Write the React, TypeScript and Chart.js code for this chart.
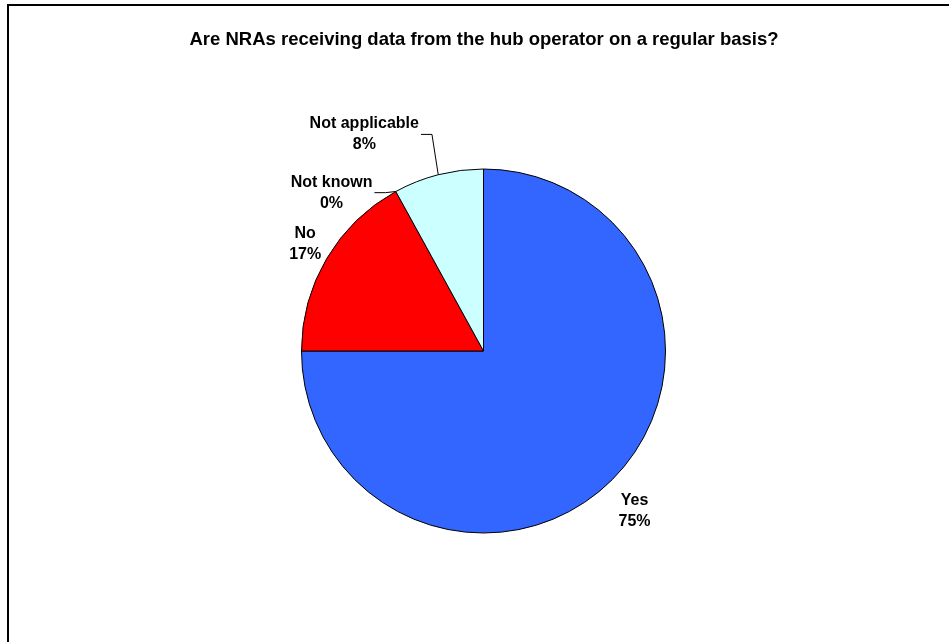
import React, { useEffect, useRef } from "react";
import { Chart, registerables } from "chart.js";

Chart.register(...registerables);

const titleText = "Are NRAs receiving data from the hub operator on a regular basis?";
const categories = ["Yes", "No", "Not known", "Not applicable"];
const percentages = [75, 17, 0, 8];
const sliceColors = ["#3366FF", "#FF0000", "#FFFF99", "#CCFFFF"];
// label placement, in units of the pie radius relative to its centre
const labelOffsetX = [0.83, -0.98, -0.835, -0.655];
const labelOffsetY = [0.88, -0.59, -0.87, -1.19];
const hasLeader = [false, false, true, true];

const FONT = "'Liberation Sans', Arial, Helvetica, sans-serif";

const overlayPlugin = {
  id: "overlay",
  afterDraw(chart: any) {
    const ctx = chart.ctx as CanvasRenderingContext2D;
    ctx.save();
    // frame
    ctx.strokeStyle = "#000";
    ctx.lineWidth = 2;
    ctx.beginPath();
    ctx.moveTo(8, 700);
    ctx.lineTo(8, 5);
    ctx.lineTo(1000, 5);
    ctx.stroke();

    // title
    ctx.fillStyle = "#000";
    ctx.font = `bold 18.5px ${FONT}`;
    ctx.textAlign = "center";
    ctx.textBaseline = "middle";
    ctx.fillText(titleText, 484, 40);

    const meta = chart.getDatasetMeta(0);
    const arc0 = meta.data[0];
    const cx = arc0.x;
    const cy = arc0.y;
    const r = arc0.outerRadius;
    ctx.font = `bold 16px ${FONT}`;
    const lh = 21;
    categories.forEach((cat, i) => {
      const lx = cx + labelOffsetX[i] * r;
      const ly = cy + labelOffsetY[i] * r;
      ctx.fillStyle = "#000";
      ctx.fillText(cat, lx, ly - lh / 2);
      ctx.fillText(percentages[i] + "%", lx, ly + lh / 2);
      if (hasLeader[i]) {
        const arc = meta.data[i];
        const mid = (arc.startAngle + arc.endAngle) / 2;
        const ex = cx + Math.cos(mid) * r;
        const ey = cy + Math.sin(mid) * r;
        const w = ctx.measureText(cat).width;
        const sx = lx + w / 2 + 2;
        const sy = ly;
        ctx.strokeStyle = "#000";
        ctx.lineWidth = 1;
        ctx.beginPath();
        ctx.moveTo(sx, sy);
        ctx.lineTo(sx + 11, sy);
        ctx.lineTo(ex, ey);
        ctx.stroke();
      }
    });
    ctx.restore();
  },
};

export default function App() {
  const ref = useRef<HTMLCanvasElement | null>(null);
  useEffect(() => {
    if (!ref.current) return;
    const chart = new Chart(ref.current, {
      type: "pie",
      data: {
        labels: categories,
        datasets: [
          {
            data: percentages,
            backgroundColor: sliceColors,
            borderColor: "#000",
            borderWidth: 1,
          },
        ],
      },
      options: {
        animation: false,
        responsive: false,
        rotation: 0,
        layout: { padding: { left: 301, right: 283, top: 167, bottom: 107 } },
        plugins: {
          legend: { display: false },
          tooltip: { enabled: false },
          title: { display: false },
        },
      },
      plugins: [overlayPlugin],
    });
    return () => chart.destroy();
  }, []);
  return (
    <canvas
      ref={ref}
      width={949}
      height={642}
      style={{ position: "absolute", left: 0, top: 0, width: 949, height: 642 }}
    />
  );
}
